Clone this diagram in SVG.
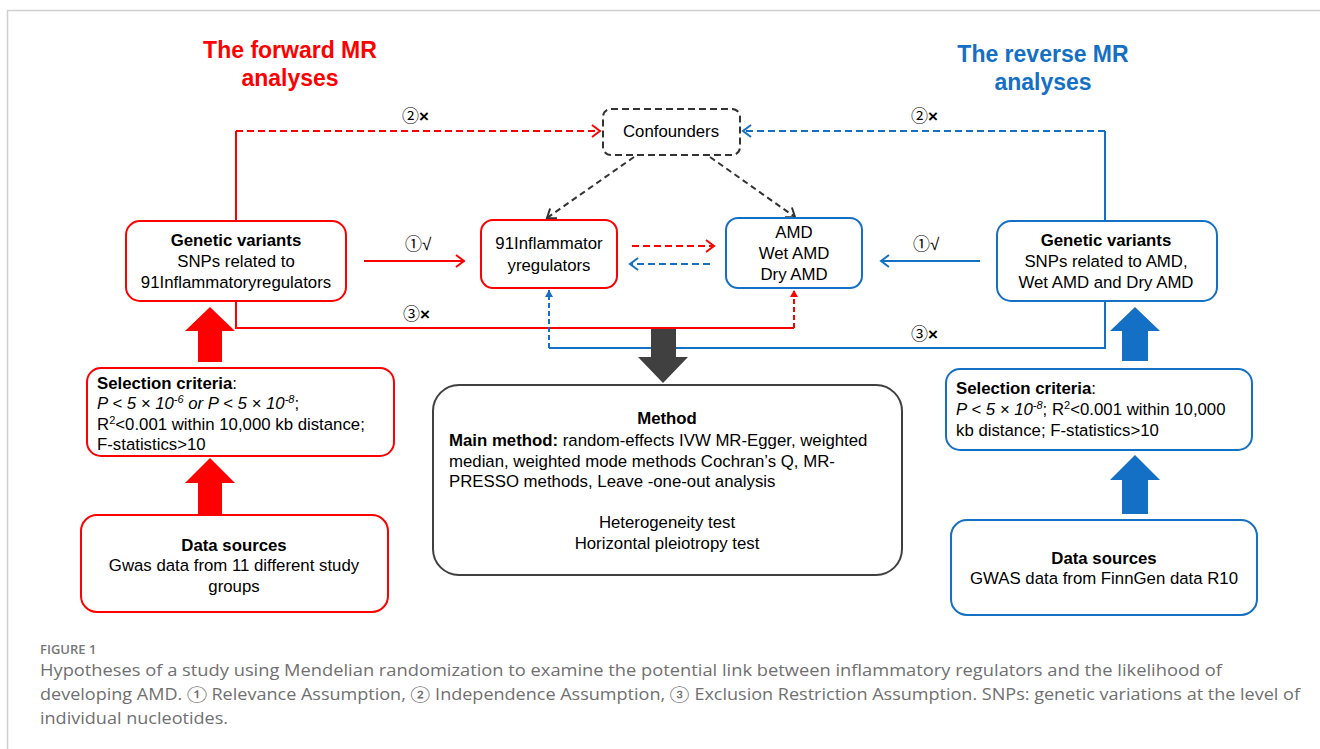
<svg xmlns="http://www.w3.org/2000/svg" width="1320" height="749" viewBox="0 0 1320 749">
<defs>
<style>
.t{font-family:"Liberation Sans",Arial,"Noto Sans CJK SC",sans-serif;font-size:16.8px;fill:#000}
.b{font-weight:bold}
.c{text-anchor:middle}
.red{stroke:#FF0000;fill:none;stroke-width:2}
.blue{stroke:#1470C4;fill:none;stroke-width:2}
.dash{stroke-dasharray:7 4}
.box{fill:#fff;stroke-width:2}
.cap{font-family:"Open Sans",Lato,"Noto Sans CJK SC",sans-serif;font-size:16px;fill:#707070}
.lab{font-family:"Liberation Sans","Noto Sans CJK SC",sans-serif;font-size:17px;fill:#000}
</style>
<marker id="mr" markerWidth="14" markerHeight="14" refX="11" refY="7" orient="auto" markerUnits="userSpaceOnUse"><path d="M3,1 L11,7 L3,13" fill="none" stroke="#FF0000" stroke-width="2"/></marker>
<marker id="mb" markerWidth="14" markerHeight="14" refX="11" refY="7" orient="auto" markerUnits="userSpaceOnUse"><path d="M3,1 L11,7 L3,13" fill="none" stroke="#1470C4" stroke-width="2"/></marker>
<marker id="mk" markerWidth="14" markerHeight="14" refX="11" refY="7" orient="auto" markerUnits="userSpaceOnUse"><path d="M3,1 L11,7 L3,13" fill="none" stroke="#333" stroke-width="2"/></marker>
<marker id="mrs" markerWidth="10" markerHeight="10" refX="8" refY="5" orient="auto" markerUnits="userSpaceOnUse"><path d="M1,1 L8,5 L1,9 Z" fill="#FF0000"/></marker>
<marker id="mbs" markerWidth="10" markerHeight="10" refX="8" refY="5" orient="auto" markerUnits="userSpaceOnUse"><path d="M1,1 L8,5 L1,9 Z" fill="#1470C4"/></marker>
</defs>
<rect width="1320" height="749" fill="#fff"/>
<!-- frame -->
<path d="M7.5,749 V10.5 H1320" fill="none" stroke="#d0d0d0" stroke-width="1.5"/>

<!-- titles -->
<text class="t b c" x="290" y="58" style="font-size:23px;fill:#FF0000">The forward MR</text>
<text class="t b c" x="290" y="86" style="font-size:23px;fill:#FF0000">analyses</text>
<text class="t b c" x="1043" y="62" style="font-size:23px;fill:#1470C4">The reverse MR</text>
<text class="t b c" x="1043" y="90" style="font-size:23px;fill:#1470C4">analyses</text>

<!-- connectors -->
<g id="connectors">
<path class="red" d="M236,221 V131"/>
<path class="red dash" d="M236,131 H600" marker-end="url(#mr)"/>
<path class="blue" d="M1105,221 V131"/>
<path class="blue dash" d="M1105,131 H743" marker-end="url(#mb)"/>
<path d="M634,157 L547,218" fill="none" stroke="#333" stroke-width="2" stroke-dasharray="6 4" marker-end="url(#mk)"/>
<path d="M710,157 L795,217" fill="none" stroke="#333" stroke-width="2" stroke-dasharray="6 4" marker-end="url(#mk)"/>
<path class="red" d="M364,261 H464" marker-end="url(#mr)"/>
<path class="blue" d="M980,261 H881" marker-end="url(#mb)"/>
<path class="red dash" d="M632,246 H714" marker-end="url(#mr)"/>
<path class="blue dash" d="M710,264 H630" marker-end="url(#mb)"/>
<path class="red" d="M236,301 V328 H794"/>
<path class="red" d="M794,328 V290" stroke-dasharray="5 3" marker-end="url(#mrs)"/>
<path class="blue" d="M1105,301 V348 H549"/>
<path class="blue" d="M549,348 V290" stroke-dasharray="5 3" marker-end="url(#mbs)"/>
<!-- big arrows -->
<path d="M198,362 V331 H185 L210,307 L235,331 H222 V362 Z" fill="#FF0000"/>
<path d="M198,514 V483 H185 L210,458 L235,483 H222 V514 Z" fill="#FF0000"/>
<path d="M1122,361 V331 H1110 L1135,307 L1160,331 H1148 V361 Z" fill="#1470C4"/>
<path d="M1122,514 V480 H1110 L1135,455 L1160,480 H1148 V514 Z" fill="#1470C4"/>
<path d="M651,329 V357 H638 L663,383 L688,357 H676 V329 Z" fill="#404040"/>
<!-- labels -->
<text class="lab" x="402" y="122">②<tspan font-weight="bold">×</tspan></text>
<text class="lab" x="911" y="122">②<tspan font-weight="bold">×</tspan></text>
<text class="lab" x="405" y="250">①√</text>
<text class="lab" x="913" y="250">①√</text>
<text class="lab" x="403" y="320">③<tspan font-weight="bold">×</tspan></text>
<text class="lab" x="911" y="340">③<tspan font-weight="bold">×</tspan></text>
</g>

<g id="confounders">
<rect x="603" y="109" width="137" height="46" rx="8" fill="#fff" stroke="#333" stroke-width="2" stroke-dasharray="7 4"/>
<text class="t c" x="671" y="137">Confounders</text>
</g>

<g id="gv-left">
<rect class="box" x="126" y="221" width="220" height="80" rx="14" stroke="#FF0000"/>
<text class="t b c" x="236" y="246">Genetic variants</text>
<text class="t c" x="236" y="267">SNPs related to</text>
<text class="t c" x="236" y="288">91Inflammatoryregulators</text>
</g>

<g id="inflam">
<rect class="box" x="481" y="220" width="136" height="68" rx="12" stroke="#FF0000"/>
<text class="t c" x="549" y="249">91Inflammator</text>
<text class="t c" x="549" y="271">yregulators</text>
</g>

<g id="amd">
<rect class="box" x="726" y="218" width="136" height="70" rx="12" stroke="#1470C4"/>
<text class="t c" x="794" y="238">AMD</text>
<text class="t c" x="794" y="259">Wet AMD</text>
<text class="t c" x="794" y="280">Dry AMD</text>
</g>

<g id="gv-right">
<rect class="box" x="997" y="221" width="220" height="80" rx="14" stroke="#1470C4"/>
<text class="t b c" x="1106" y="246">Genetic variants</text>
<text class="t c" x="1106" y="267">SNPs related to AMD,</text>
<text class="t c" x="1106" y="288">Wet AMD and Dry AMD</text>
</g>

<g id="sel-left">
<rect class="box" x="87" y="368" width="307" height="88" rx="14" stroke="#FF0000"/>
<text class="t" x="97" y="389"><tspan font-weight="bold">Selection criteria</tspan>:</text>
<text class="t" x="97" y="409" font-style="italic">P &lt; 5 ×  10<tspan font-size="11" dy="-6">-6</tspan><tspan dy="6"> or P &lt; 5 ×  10</tspan><tspan font-size="11" dy="-6">-8</tspan><tspan dy="6" font-style="normal">;</tspan></text>
<text class="t" x="97" y="430">R<tspan font-size="11" dy="-6">2</tspan><tspan dy="6">&lt;0.001 within 10,000 kb distance;</tspan></text>
<text class="t" x="97" y="450">F-statistics&gt;10</text>
</g>

<g id="data-left">
<rect class="box" x="81" y="515" width="307" height="97" rx="16" stroke="#FF0000"/>
<text class="t b c" x="234" y="551">Data sources</text>
<text class="t c" x="234" y="571">Gwas data from 11 different study</text>
<text class="t c" x="234" y="592">groups</text>
</g>

<g id="sel-right">
<rect class="box" x="946" y="369" width="306" height="81" rx="14" stroke="#1470C4"/>
<text class="t" x="956" y="394"><tspan font-weight="bold">Selection criteria</tspan>:</text>
<text class="t" x="956" y="415"><tspan font-style="italic">P &lt; 5 ×  10</tspan><tspan font-size="11" dy="-6" font-style="italic">-8</tspan><tspan dy="6">; R</tspan><tspan font-size="11" dy="-6">2</tspan><tspan dy="6">&lt;0.001 within 10,000</tspan></text>
<text class="t" x="956" y="436">kb distance; F-statistics&gt;10</text>
</g>

<g id="data-right">
<rect class="box" x="951" y="520" width="306" height="95" rx="16" stroke="#1470C4"/>
<text class="t b c" x="1104" y="564">Data sources</text>
<text class="t c" x="1104" y="584">GWAS data from FinnGen data R10</text>
</g>

<g id="method">
<rect x="433" y="385" width="469" height="190" rx="26" fill="#fff" stroke="#404040" stroke-width="2"/>
<text class="t b c" x="667" y="424">Method</text>
<text class="t" x="449" y="446"><tspan font-weight="bold">Main method:</tspan> random-effects IVW MR-Egger, weighted</text>
<text class="t" x="449" y="467">median, weighted mode methods Cochran’s Q, MR-</text>
<text class="t" x="449" y="487">PRESSO methods, Leave -one-out analysis</text>
<text class="t c" x="667" y="528">Heterogeneity test</text>
<text class="t c" x="667" y="549">Horizontal pleiotropy test</text>
</g>

<g id="caption">
<text class="cap" x="40" y="654" style="font-size:13px;font-weight:600;fill:#777">FIGURE 1</text>
<text class="cap" x="40" y="676" textLength="1182" lengthAdjust="spacingAndGlyphs">Hypotheses of a study using Mendelian randomization to examine the potential link between inflammatory regulators and the likelihood of</text>
<text class="cap" x="40" y="700" textLength="1260" lengthAdjust="spacingAndGlyphs">developing AMD. ① Relevance Assumption, ② Independence Assumption, ③ Exclusion Restriction Assumption. SNPs: genetic variations at the level of</text>
<text class="cap" x="40" y="724" textLength="188" lengthAdjust="spacingAndGlyphs">individual nucleotides.</text>
</g>
</svg>
